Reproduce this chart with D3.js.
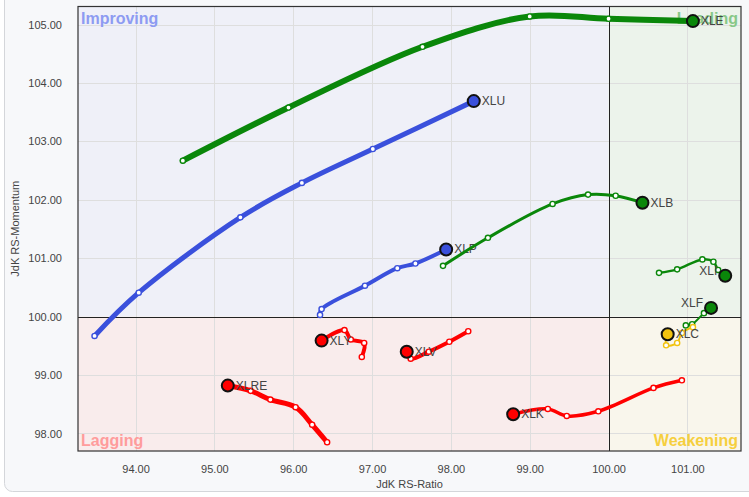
<!DOCTYPE html>
<html>
<head>
<meta charset="utf-8">
<script src="https://cdn.jsdelivr.net/npm/d3@7"></script>
<style>
  body { margin: 0; background: #fff; font-family: Arial, "Liberation Sans", sans-serif; }
</style>
</head>
<body>
<div id="chart"></div>
<script>
// data
const tickers = ["XLE", "XLU", "XLP", "XLB", "XLI", "XLF", "XLC", "XLY", "XLV", "XLK", "XLRE"]
const rsRatio = [
  [94.60, 95.94, 97.64, 99.00, 100.00, 101.07],
  [93.48, 94.04, 95.33, 96.11, 97.01, 98.29],
  [96.34, 96.36, 96.91, 97.32, 97.55, 97.94],
  [97.90, 98.47, 99.29, 99.74, 100.09, 100.43],
  [100.64, 100.87, 101.19, 101.33, 101.39, 101.48],
  [100.98, 101.06, 101.21, 101.30],
  [101.07, 100.93, 100.87, 100.73, 100.75],
  [96.87, 96.90, 96.73, 96.65, 96.36],
  [98.22, 97.98, 97.72, 97.49, 97.44],
  [100.93, 100.57, 99.87, 99.47, 99.23, 98.79],
  [96.43, 96.24, 96.03, 95.71, 95.46, 95.17]
]
const rsMomentum = [
  [102.67, 103.58, 104.62, 105.14, 105.10, 105.06],
  [99.67, 100.41, 101.70, 102.29, 102.87, 103.69],
  [100.03, 100.13, 100.53, 100.83, 100.91, 101.15],
  [100.87, 101.35, 101.93, 102.09, 102.07, 101.95],
  [100.75, 100.81, 100.98, 100.94, 100.80, 100.70],
  [99.85, 99.87, 100.06, 100.15],
  [99.82, 99.72, 99.55, 99.51, 99.70],
  [99.31, 99.55, 99.61, 99.77, 99.59],
  [99.75, 99.57, 99.40, 99.28, 99.40],
  [98.91, 98.78, 98.38, 98.30, 98.42, 98.33],
  [97.85, 98.15, 98.45, 98.58, 98.73, 98.82]
]
const xTicks = [94, 95, 96, 97, 98, 99, 100, 101]
const yTicks = [98, 99, 100, 101, 102, 103, 104, 105]
const quadrants = ["Improving", "Leading", "Lagging", "Weakening"]

// styles
const GREEN = "#0a870a", BLUE = "#3a50dc", RED = "#ff0000", GOLD = "#f2c30f"
const seriesColor = { XLE: GREEN, XLU: BLUE, XLP: BLUE, XLB: GREEN, XLI: GREEN, XLF: GREEN, XLC: GOLD, XLY: RED, XLV: RED, XLK: RED, XLRE: RED }
const seriesWidth = { XLE: 6, XLU: 5, XLP: 4, XLB: 3, XLI: 2.5, XLF: 2, XLC: 2, XLY: 4, XLV: 4, XLK: 3.5, XLRE: 5 }
const labelLeft = { XLI: true, XLF: true }

const W = 749, H = 497
const MARGIN = { TOP: 6.5, BOTTOM: 46, LEFT: 78, RIGHT: 8 }

const svg = d3.select("#chart").append("svg")
  .attr("width", W).attr("height", H)

svg.append("rect")
  .attr("x", 4.5).attr("y", -12).attr("width", W + 10).attr("height", H + 6.5)
  .attr("rx", 8).attr("fill", "#f7f8fa").attr("stroke", "#d4d6da")

const x = d3.scaleLinear().domain([93.27, 101.68]).range([MARGIN.LEFT, W - MARGIN.RIGHT])
const y = d3.scaleLinear().domain([97.70, 105.31]).range([H - MARGIN.BOTTOM, MARGIN.TOP])

const [x0, x1] = x.range(), [y0, y1] = y.range()
const xm = x(100), ym = y(100)

// quadrant backgrounds
const quadFill = [
  { x: x0, y: y1, w: xm - x0, h: ym - y1, fill: "#eff0f8" },
  { x: xm, y: y1, w: x1 - xm, h: ym - y1, fill: "#ecf3eb" },
  { x: x0, y: ym, w: xm - x0, h: y0 - ym, fill: "#f9ecec" },
  { x: xm, y: ym, w: x1 - xm, h: y0 - ym, fill: "#f9f6ec" }
]
svg.append("g").selectAll("rect").data(quadFill).join("rect")
  .attr("x", d => d.x).attr("y", d => d.y).attr("width", d => d.w).attr("height", d => d.h)
  .attr("fill", d => d.fill)

// grid
const grid = svg.append("g").attr("stroke", "#dedede").attr("stroke-width", 1)
grid.selectAll(".gx").data(xTicks).join("line")
  .attr("x1", d => Math.round(x(d)) + 0.5).attr("x2", d => Math.round(x(d)) + 0.5)
  .attr("y1", y1).attr("y2", y0)
grid.selectAll(".gy").data(yTicks).join("line")
  .attr("y1", d => Math.round(y(d)) + 0.5).attr("y2", d => Math.round(y(d)) + 0.5)
  .attr("x1", x0).attr("x2", x1)

// quadrant labels
const qPos = [
  { x: x0 + 3, y: y1 + 17, anchor: "start", fill: "#8d9bf2" },
  { x: x1 - 3, y: y1 + 17, anchor: "end", fill: "#88c888" },
  { x: x0 + 3, y: y0 - 5, anchor: "start", fill: "#ff9c9c" },
  { x: x1 - 3, y: y0 - 5, anchor: "end", fill: "#f6cf3e" }
]
svg.append("g").selectAll("text").data(quadrants).join("text")
  .attr("x", (d, i) => qPos[i].x).attr("y", (d, i) => qPos[i].y)
  .attr("text-anchor", (d, i) => qPos[i].anchor)
  .attr("fill", (d, i) => qPos[i].fill)
  .attr("font-size", 16).attr("font-weight", "bold")
  .text(d => d)

// center lines + frame
svg.append("line").attr("x1", Math.round(xm) + 0.5).attr("x2", Math.round(xm) + 0.5)
  .attr("y1", y1).attr("y2", y0).attr("stroke", "#222")
svg.append("line").attr("y1", Math.round(ym) + 0.5).attr("y2", Math.round(ym) + 0.5)
  .attr("x1", x0).attr("x2", x1).attr("stroke", "#222")
svg.append("rect").attr("x", x0).attr("y", y1).attr("width", x1 - x0).attr("height", y0 - y1)
  .attr("fill", "none").attr("stroke", "#333").attr("stroke-width", 1.2)

// axes
const xAxis = svg.append("g").attr("transform", `translate(0,${y0})`)
  .call(d3.axisBottom(x).tickValues(xTicks).tickFormat(d3.format(".2f")).tickSize(0).tickPadding(14))
const yAxis = svg.append("g").attr("transform", `translate(${x0},0)`)
  .call(d3.axisLeft(y).tickValues(yTicks).tickFormat(d3.format(".2f")).tickSize(0).tickPadding(16))
;[xAxis, yAxis].forEach(a => {
  a.select(".domain").remove()
  a.selectAll("text").attr("fill", "#444").attr("font-size", 11).attr("font-family", "Arial, 'Liberation Sans', sans-serif")
})

svg.append("text").attr("x", (x0 + x1) / 2).attr("y", H - 9)
  .attr("text-anchor", "middle").attr("font-size", 11).attr("fill", "#444")
  .text("JdK RS-Ratio")
svg.append("text").attr("transform", `translate(19,${(y0 + y1) / 2}) rotate(-90)`)
  .attr("text-anchor", "middle").attr("font-size", 11).attr("fill", "#444")
  .text("JdK RS-Momentum")

// tails
const series = tickers.map((t, i) => ({
  name: t,
  pts: rsRatio[i].map((r, j) => [r, rsMomentum[i][j]])
}))

const line = d3.line().x(d => x(d[0])).y(d => y(d[1])).curve(d3.curveCatmullRom.alpha(0.5))

const tails = svg.append("g")
series.forEach(s => {
  const c = seriesColor[s.name]
  const g = tails.append("g")
  g.append("path").attr("d", line(s.pts)).attr("fill", "none")
    .attr("stroke", c).attr("stroke-width", seriesWidth[s.name])
    .attr("stroke-linecap", "round").attr("stroke-linejoin", "round")
  g.selectAll("circle").data(s.pts.slice(0, -1)).join("circle")
    .attr("cx", d => x(d[0])).attr("cy", d => y(d[1])).attr("r", 2.6)
    .attr("fill", "#fff").attr("stroke", c).attr("stroke-width", 1.4)
  const head = s.pts[s.pts.length - 1]
  g.append("circle").attr("cx", x(head[0])).attr("cy", y(head[1])).attr("r", 6)
    .attr("fill", c).attr("stroke", "#111").attr("stroke-width", 2)
  const left = labelLeft[s.name]
  g.append("text")
    .attr("x", x(head[0]) + (left ? -8 : 8)).attr("y", y(head[1]) + (left ? -1 : 4))
    .attr("text-anchor", left ? "end" : "start")
    .attr("font-size", 12).attr("fill", "#444")
    .text(s.name)
})
</script>
</body>
</html>
